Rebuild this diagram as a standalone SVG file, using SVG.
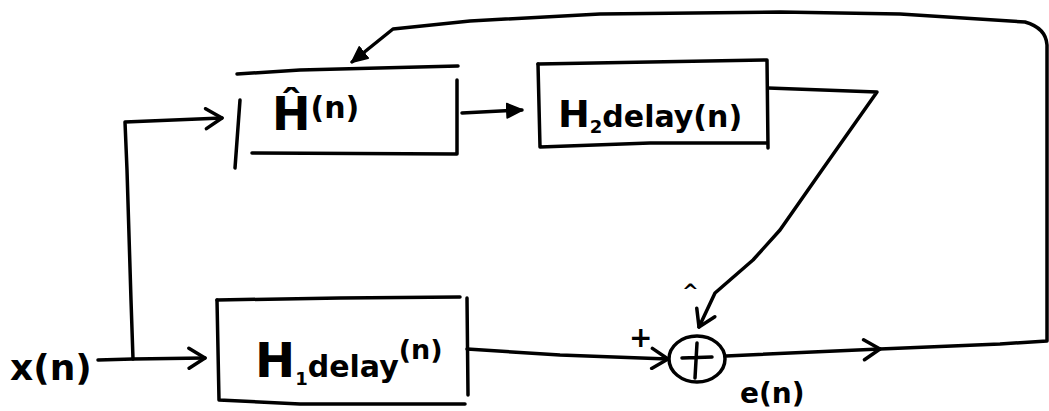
<svg xmlns="http://www.w3.org/2000/svg" width="1049" height="411" viewBox="0 0 1049 411">
  <style>
    .ink { fill: none; stroke: #000; stroke-width: 3.5; stroke-linecap: round; stroke-linejoin: round; }
    .lbl { font-family: "DejaVu Sans", "Liberation Sans", sans-serif; font-weight: bold; fill: #000; }
  </style>
  <defs>
    <!-- open hand-drawn arrowhead -->
    <marker id="open" viewBox="-19 -12 22 24" markerWidth="22" markerHeight="24" refX="0" refY="0" orient="auto" markerUnits="userSpaceOnUse">
      <path d="M-16,-10 L0,0 L-16,10" fill="none" stroke="#000" stroke-width="3.5" stroke-linecap="round" stroke-linejoin="round"/>
    </marker>
    <!-- solid blob arrowhead -->
    <marker id="solid" viewBox="-16 -9 18 18" markerWidth="18" markerHeight="18" refX="0" refY="0" orient="auto" markerUnits="userSpaceOnUse">
      <path d="M-15,-7 L0,0 L-15,7 Z" fill="#000" stroke="#000" stroke-width="2" stroke-linejoin="round"/>
    </marker>
  </defs>

  <rect width="1049" height="411" fill="#fff"/>

  <!-- connectors -->
  <g id="connectors">
    <!-- input x(n) to H1 delay -->
    <path class="ink" d="M98,360 L133,359 L205,358" marker-end="url(#open)"/>
    <!-- branch up to the adaptive filter -->
    <path class="ink" d="M133,359 L131,300 L127,170 L125,122 L222,118" marker-end="url(#open)"/>
    <!-- adaptive filter to H2 delay -->
    <path class="ink" d="M462,113 L522,110" marker-end="url(#solid)"/>
    <!-- H2 delay output to the summing junction -->
    <path class="ink" d="M768,88 L877,92 L822,170 L780,230 L753,260 L715,293 L699,327" marker-end="url(#open)"/>
    <!-- H1 delay output to the summing junction -->
    <path class="ink" d="M467,349 L560,355 L668,359" marker-end="url(#open)"/>
    <!-- error output -->
    <path class="ink" d="M726,356 L880,349" marker-end="url(#open)"/>
    <!-- error fed back to the adaptive filter -->
    <path class="ink" d="M880,349 L1000,344 L1047,341 L1047,45 Q1046,28 1025,22 L900,14 L780,12 L600,14 L470,21 L393,29 L352,62" marker-end="url(#solid)"/>
  </g>

  <!-- adaptive filter estimate -->
  <g id="hhat">
    <path class="ink" d="M237,74 L300,70 L458,66"/>
    <path class="ink" d="M240,100 L235,168"/>
    <path class="ink" d="M457,80 L457,154 L252,153"/>
    <text class="lbl" x="272" y="130"><tspan font-size="46">Ĥ</tspan><tspan font-size="30" dy="-12">(n)</tspan></text>
  </g>

  <!-- second delay path -->
  <g id="h2delay">
    <path class="ink" d="M538,64 L650,62 L767,60 L768,148"/>
    <path class="ink" d="M538,64 L540,147 L650,143 L767,143"/>
    <text class="lbl" x="558" y="127"><tspan font-size="38">H</tspan><tspan font-size="18" dy="6">2</tspan><tspan font-size="30" dy="-6">delay</tspan><tspan font-size="30">(n)</tspan></text>
  </g>

  <!-- first delay path -->
  <g id="h1delay">
    <path class="ink" d="M217,300 L340,298 L460,297"/>
    <path class="ink" d="M467,298 L468,395"/>
    <path class="ink" d="M217,300 L219,400 L300,404 L465,404"/>
    <text class="lbl" x="255" y="377"><tspan font-size="48">H</tspan><tspan font-size="18" dy="8">1</tspan><tspan font-size="30" dy="-8">delay</tspan><tspan font-size="27" dy="-18">(n)</tspan></text>
  </g>

  <!-- summing junction -->
  <g id="sum">
    <ellipse class="ink" cx="697" cy="359" rx="28" ry="23"/>
    <path class="ink" d="M697,343 L695,378 M682,358 L712,357"/>
    <text class="lbl" x="629" y="347" font-size="28">+</text>
    <text class="lbl" x="682" y="298" font-size="20">^</text>
  </g>

  <!-- input label -->
  <g id="input">
    <text class="lbl" x="10" y="380" font-size="36">x(n)</text>
  </g>

  <!-- error label -->
  <g id="error">
    <text class="lbl" x="740" y="403" font-size="28">e(n)</text>
  </g>
</svg>
